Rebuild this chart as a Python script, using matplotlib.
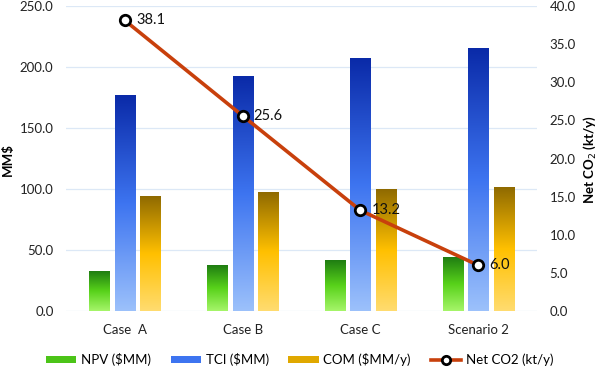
import matplotlib
matplotlib.use("Agg")
import matplotlib.pyplot as plt
import numpy as np
from matplotlib.colors import LinearSegmentedColormap
from matplotlib.patches import Patch
from matplotlib.lines import Line2D

plt.rcParams['font.family'] = ['Lato', 'DejaVu Sans']

categories = ["Case  A", "Case B", "Case C", "Scenario 2"]
npv = [32, 37, 41, 44]
tci = [177, 192, 207, 215]
com = [94, 97, 100, 101.5]
co2 = [38.1, 25.6, 13.2, 6.0]

W, H = 599, 369
fig = plt.figure(figsize=(W / 100, H / 100), dpi=100)
ax = fig.add_axes([66 / W, 1 - 311 / H, 471 / W, 305 / H])
ax2 = ax.twinx()

x = np.arange(len(categories))
w = 0.17
pitch = 0.2166

cmaps = [
    LinearSegmentedColormap.from_list("g", ["#a6f56a", "#58d21a", "#1f7d12"]),
    LinearSegmentedColormap.from_list("b", ["#9cc1fb", "#3d74f0", "#0a2aa8"]),
    LinearSegmentedColormap.from_list("y", ["#ffdc70", "#ffc000", "#8f6a00"]),
]
series = [npv, tci, com]
grad = np.linspace(0, 1, 256).reshape(-1, 1)
for k, vals in enumerate(series):
    for i, v in enumerate(vals):
        xc = x[i] + (k - 1) * pitch
        ax.imshow(grad, cmap=cmaps[k], origin='lower', aspect='auto',
                  extent=[xc - w / 2, xc + w / 2, 0, v], zorder=2)

ax.set_xlim(-0.5, 3.5)
ax.set_ylim(0, 250)
ax.set_yticks(np.arange(0, 251, 50))
ax.set_yticklabels([f"{t:.1f}" for t in np.arange(0, 251, 50)])
ax.set_xticks(x)
ax.set_xticklabels(categories)
ax.grid(axis='y', color='#dce8f6', linewidth=0.9, zorder=0)
ax.set_axisbelow(True)
for s in ax.spines.values():
    s.set_visible(False)
for s in ax2.spines.values():
    s.set_visible(False)
ax.tick_params(axis='both', length=0, labelsize=9.5, colors='#222222', pad=9)
ax.tick_params(axis='x', pad=9)

ax2.set_ylim(0, 40)
ax2.set_yticks(np.arange(0, 41, 5))
ax2.set_yticklabels([f"{t:.1f}" for t in np.arange(0, 41, 5)])
ax2.tick_params(axis='y', length=0, labelsize=9.5, colors='#222222', pad=9)

fig.text(8 / W, 1 - 160 / H, "MM$", rotation=90, ha='center', va='center',
         fontsize=9.5, fontweight='bold')
fig.text(590 / W, 1 - 160 / H, "Net CO$_2$ (kt/y)", rotation=90, ha='center',
         va='center', fontsize=9.5, fontweight='bold')

line_color = "#c8400c"
ax2.plot(x, co2, color=line_color, linewidth=2.6, zorder=5,
         marker='o', markersize=7.5, markerfacecolor='white',
         markeredgecolor='black', markeredgewidth=2)
for xi, v in zip(x, co2):
    ax2.annotate(f"{v:.1f}", (xi, v), xytext=(8, 0), textcoords='offset points',
                 va='center', ha='left', fontsize=10.5, color='#111111', zorder=6)

handles = [
    Patch(facecolor="#4cc418", label="NPV ($MM)"),
    Patch(facecolor="#3d74f0", label="TCI ($MM)"),
    Patch(facecolor="#e0a800", label="COM ($MM/y)"),
    Line2D([0], [0], color=line_color, linewidth=2.6, marker='o', markersize=6,
           markerfacecolor='white', markeredgecolor='black', markeredgewidth=2,
           label="Net CO2 (kt/y)"),
]
fig.legend(handles=handles, loc='center', bbox_to_anchor=(0.5, 0.025), ncol=4,
           frameon=False, fontsize=9.5, handlelength=2.3, handleheight=0.45,
           columnspacing=1.5, handletextpad=0.35)

fig.savefig("out.png", dpi=100)
